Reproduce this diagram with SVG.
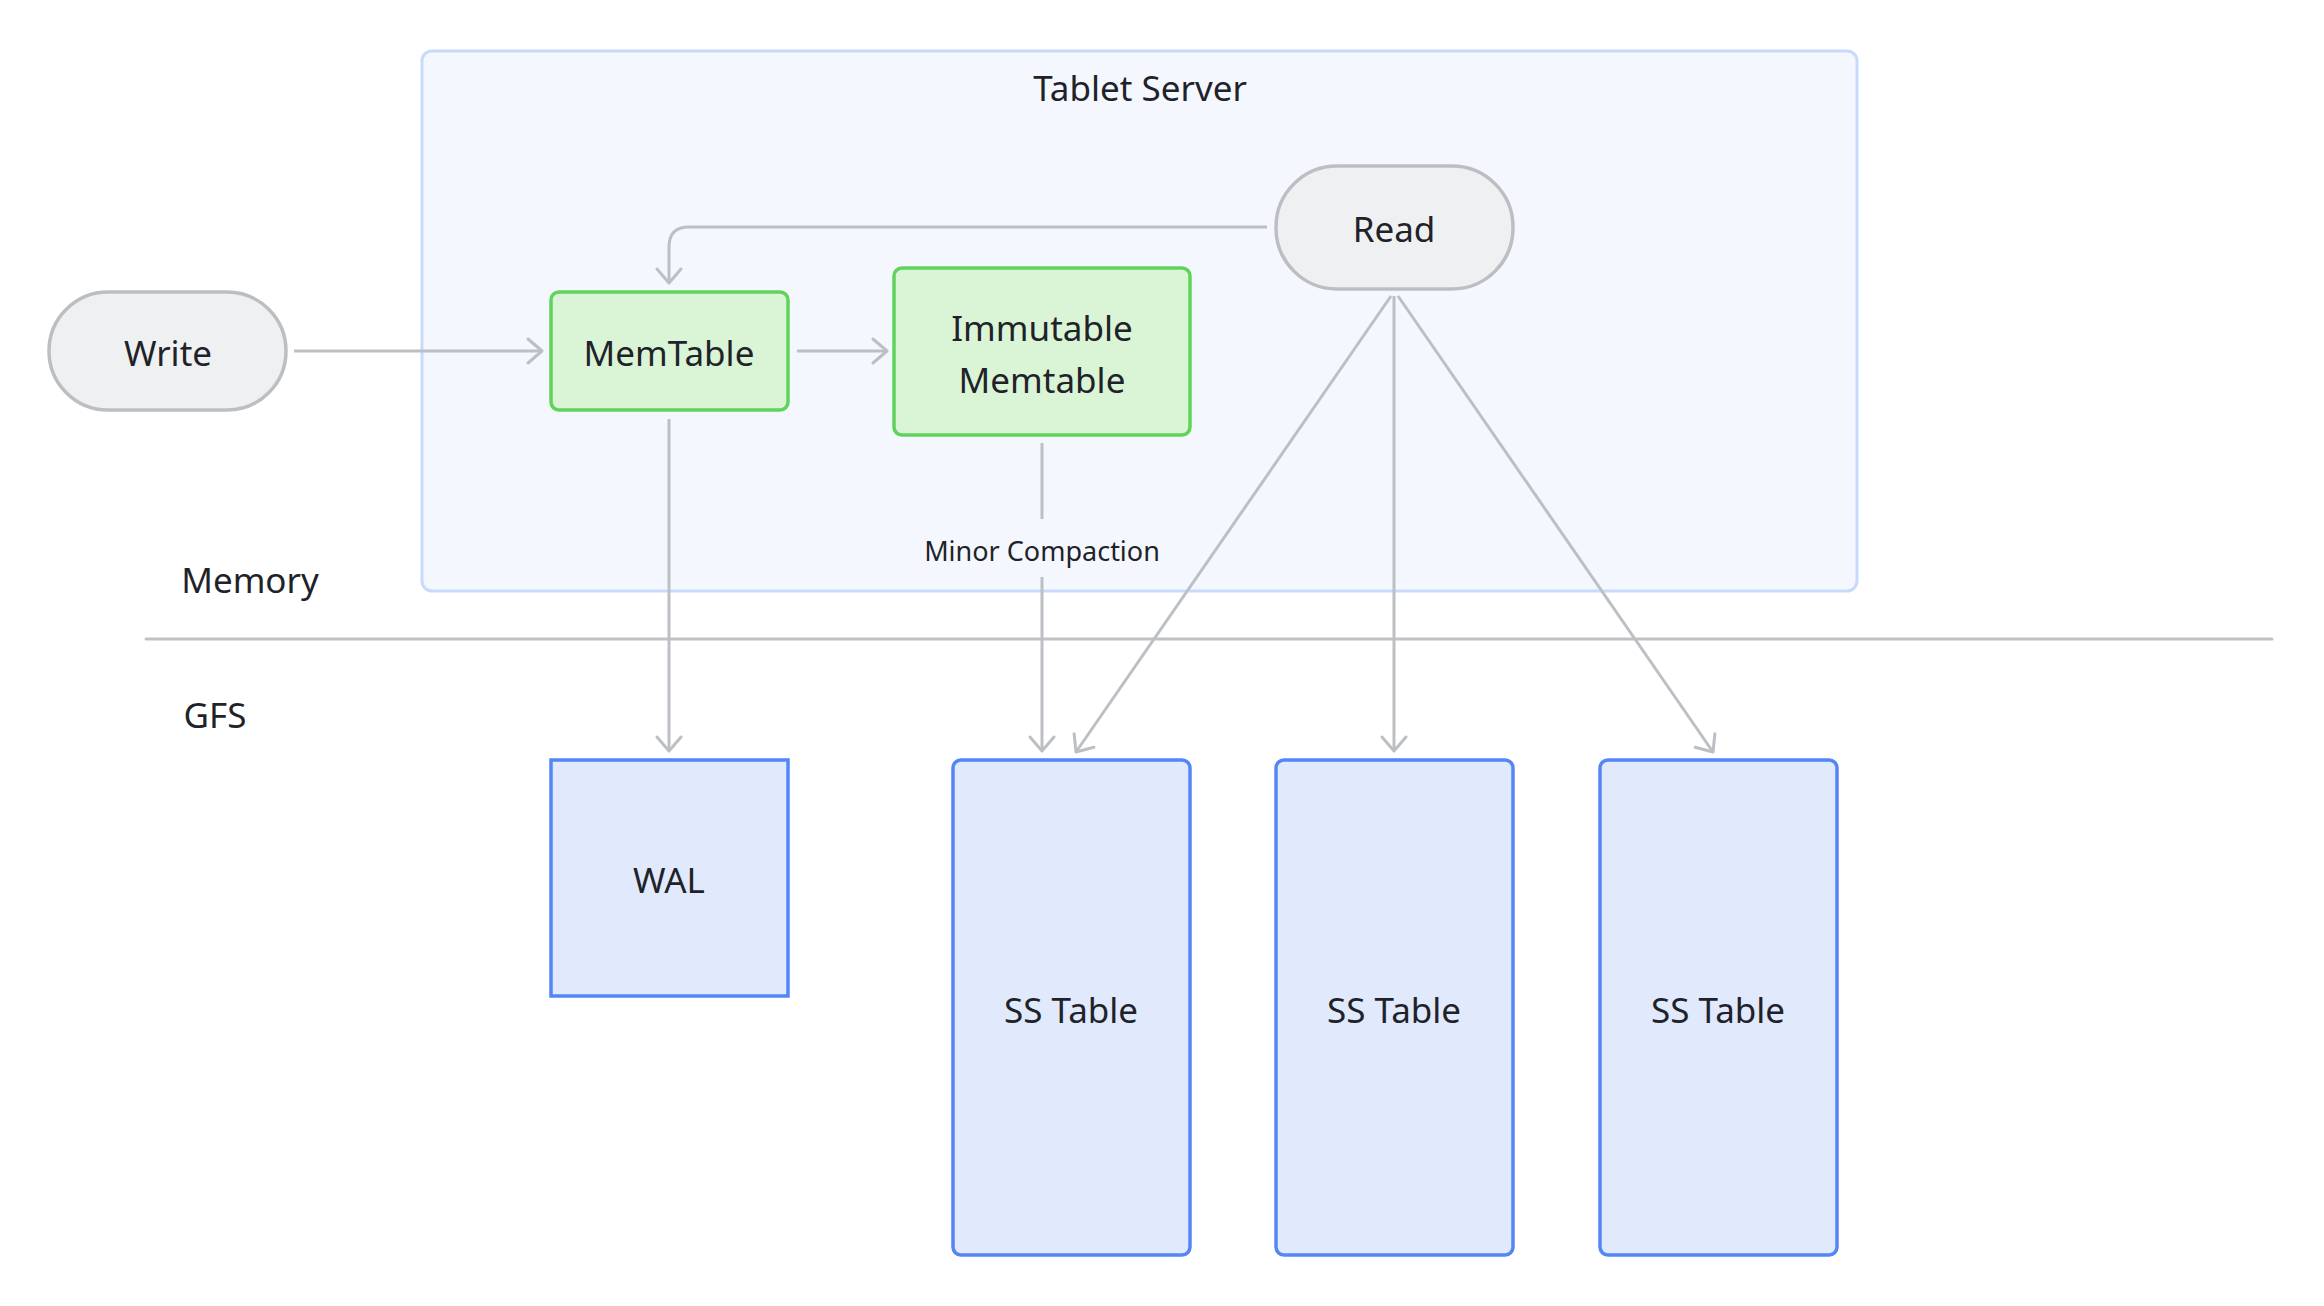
<svg xmlns="http://www.w3.org/2000/svg" width="2324" height="1306" viewBox="0 0 2324 1306">
<style>
text{font-family:"Noto Sans","Liberation Sans",sans-serif;fill:#1f2329;text-anchor:middle;dominant-baseline:central}
.t{font-size:35px}
.s{font-size:27px}
.pill{fill:#eff0f2;stroke:#bcbec3;stroke-width:3.5}
.green{fill:#daf4d6;stroke:#5fd35a;stroke-width:3.5}
.blue{fill:#e1e9fd;stroke:#5586f5;stroke-width:3.5}
.edge{fill:none;stroke:#bcbfc4;stroke-width:3}
</style>
<defs>
<marker id="arr" markerUnits="userSpaceOnUse" markerWidth="30" markerHeight="30" viewBox="-16 -15 20 30" refX="0" refY="0" orient="auto">
<path d="M-14,-12 L0,0 L-14,12" fill="none" stroke="#bcbfc4" stroke-width="3" stroke-linecap="round" stroke-linejoin="round"/>
</marker>
</defs>
<rect width="2324" height="1306" fill="#ffffff"/>
<g id="tablet-server">
<rect x="422" y="51" width="1435" height="540" rx="10" fill="#f4f8fe" stroke="#c7dafc" stroke-width="3"/>
<text class="t" x="1140" y="87">Tablet Server</text>
</g>
<g id="divider">
<line x1="146" y1="639" x2="2272" y2="639" stroke="#bfc1c5" stroke-width="3" stroke-linecap="round"/>
<text class="t" x="250" y="579">Memory</text>
<text class="t" x="215" y="714">GFS</text>
</g>
<g id="edges">
<path class="edge" d="M294 351 H542" marker-end="url(#arr)"/>
<path class="edge" d="M797 351 H887" marker-end="url(#arr)"/>
<path class="edge" d="M1267 227 H689 Q669 227 669 247 V283" marker-end="url(#arr)"/>
<path class="edge" d="M669 419 V751" marker-end="url(#arr)"/>
<path class="edge" d="M1042 443 V519"/>
<path class="edge" d="M1042 577 V751" marker-end="url(#arr)"/>
<text class="s" x="1042" y="550">Minor Compaction</text>
<path class="edge" d="M1391 296 L1076 752" marker-end="url(#arr)"/>
<path class="edge" d="M1394 296 V751" marker-end="url(#arr)"/>
<path class="edge" d="M1398 296 L1713 752" marker-end="url(#arr)"/>
</g>
<g id="write">
<rect class="pill" x="49" y="292" width="237" height="118" rx="59"/>
<text class="t" x="168" y="352">Write</text>
</g>
<g id="read">
<rect class="pill" x="1276" y="166" width="237" height="123" rx="61"/>
<text class="t" x="1394" y="228">Read</text>
</g>
<g id="memtable">
<rect class="green" x="551" y="292" width="237" height="118" rx="8"/>
<text class="t" x="669" y="352">MemTable</text>
</g>
<g id="immutable">
<rect class="green" x="894" y="268" width="296" height="167" rx="8"/>
<text class="t" x="1042" y="327">Immutable</text>
<text class="t" x="1042" y="379">Memtable</text>
</g>
<g id="wal">
<rect class="blue" x="551" y="760" width="237" height="236"/>
<text class="t" x="669" y="879">WAL</text>
</g>
<g id="sstable1">
<rect class="blue" x="953" y="760" width="237" height="495" rx="8"/>
<text class="t" x="1071" y="1009">SS Table</text>
</g>
<g id="sstable2">
<rect class="blue" x="1276" y="760" width="237" height="495" rx="8"/>
<text class="t" x="1394" y="1009">SS Table</text>
</g>
<g id="sstable3">
<rect class="blue" x="1600" y="760" width="237" height="495" rx="8"/>
<text class="t" x="1718" y="1009">SS Table</text>
</g>
</svg>
